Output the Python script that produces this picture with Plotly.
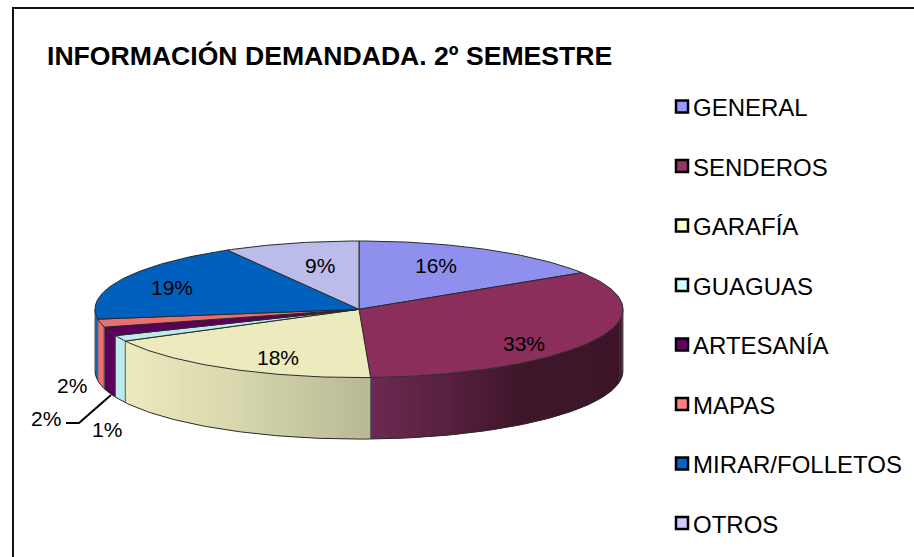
import numpy as np
import plotly.graph_objects as go

TITLE = "INFORMACIÓN DEMANDADA. 2º SEMESTRE"
categories = ["GENERAL", "SENDEROS", "GARAFÍA", "GUAGUAS", "ARTESANÍA", "MAPAS", "MIRAR/FOLLETOS", "OTROS"]
values = [16.0, 33.3, 18.0, 1.4, 2.1, 1.9, 19.0, 8.3]
labels = ["16%", "33%", "18%", "1%", "2%", "2%", "19%", "9%"]
legend_colors = ["#9999FF", "#993366", "#FFFFCC", "#CCFFFF", "#660066", "#FF8080", "#0066CC", "#CCCCFF"]
top_colors = ["#8F8FEE", "#8B2E5C", "#ECEBBD", "#BDEAEA", "#5A0058", "#E87070", "#0060BD", "#BCBCEA"]

# geometry of the projected disc (plot units = pixels)
CX, CY, RX, RY, DEPTH = 359.0, 309.3, 264.0, 68.3, 61.5
FONT = "Liberation Sans"
EDGE = "#2a2a2a"

def ex(a):
    return CX + RX * np.sin(a)

def ey(a):
    return CY - RY * np.cos(a)

def arc(a0, a1):
    n = max(3, int(abs(a1 - a0) / np.radians(1)) + 2)
    return np.linspace(a0, a1, n)

def lerp_color(stops, t):
    xs = [s[0] for s in stops]
    rgb = [np.interp(t, xs, [s[1][i] for s in stops]) for i in range(3)]
    return "rgb(%d,%d,%d)" % tuple(int(round(v)) for v in rgb)

side_gradients = {
    0: [(0, (0x3C, 0x15, 0x28)), (1, (0x3C, 0x15, 0x28))],
    1: [(0, (0x3C, 0x15, 0x28)), (0.6, (0x3F, 0x16, 0x2A)), (1, (0x6C, 0x2A, 0x52))],
    2: [(0, (0xB8, 0xB8, 0x96)), (0.55, (0xDD, 0xDC, 0xB1)), (1, (0xEC, 0xEB, 0xBD))],
    3: [(0, (0xBD, 0xEA, 0xEA)), (1, (0xBD, 0xEA, 0xEA))],
    4: [(0, (0x5A, 0x00, 0x58)), (1, (0x5A, 0x00, 0x58))],
    5: [(0, (0xE8, 0x70, 0x70)), (1, (0xE8, 0x70, 0x70))],
    6: [(0, (0x00, 0x58, 0xAE)), (1, (0x00, 0x58, 0xAE))],
}

fig = go.Figure()
total = sum(values)
bounds = np.concatenate([[0], np.cumsum(values)]) / total * 2 * np.pi

def poly(xs, ys, fill, line=None, width=0):
    fig.add_trace(go.Scatter(
        x=list(xs), y=list(ys), mode="lines", fill="toself", fillcolor=fill,
        line=dict(color=line or fill, width=width), hoverinfo="skip", showlegend=False))

# side wall, only the front half of the disc is visible
for i in range(len(values)):
    a0 = max(bounds[i], np.pi / 2)
    a1 = min(bounds[i + 1], 3 * np.pi / 2)
    if a1 <= a0:
        continue
    steps = arc(a0, a1)
    stops = side_gradients[i]
    for j in range(len(steps) - 1):
        s0, s1 = steps[j], min(steps[j + 1] + np.radians(0.6), a1)
        a = arc(s0, s1)
        t = (j + 0.5) / (len(steps) - 1)
        poly(np.r_[ex(a), ex(a)[::-1]], np.r_[ey(a), ey(a)[::-1] + DEPTH], lerp_color(stops, t))

# side wall outlines
a = arc(np.pi / 2, 3 * np.pi / 2)
fig.add_trace(go.Scatter(x=ex(a), y=ey(a) + DEPTH, mode="lines", line=dict(color=EDGE, width=1),
                         hoverinfo="skip", showlegend=False))
for b in list(bounds[1:-1]) + [np.pi / 2, 3 * np.pi / 2]:
    if np.pi / 2 <= b <= 3 * np.pi / 2:
        fig.add_trace(go.Scatter(x=[ex(b), ex(b)], y=[ey(b), ey(b) + DEPTH], mode="lines",
                                 line=dict(color="#555555", width=1), hoverinfo="skip", showlegend=False))

# top face
for i in range(len(values)):
    a = arc(bounds[i], bounds[i + 1])
    poly(np.r_[CX, ex(a), CX], np.r_[CY, ey(a), CY], top_colors[i], EDGE, 1)

# frame
fig.add_shape(type="rect", x0=13, y0=8, x1=940, y1=600, line=dict(color="#111111", width=2), layer="below")

# title
fig.add_annotation(x=45, y=56, text="<b>%s</b>" % TITLE, showarrow=False, xanchor="left", yanchor="middle",
                   font=dict(family=FONT, size=26.6, color="#000000"))

# legend
for i, name in enumerate(categories):
    y = 106.6 + i * 59.5
    fig.add_trace(go.Scatter(x=[682], y=[y], mode="markers", hoverinfo="skip", showlegend=False,
                             marker=dict(symbol="square", size=12, color=legend_colors[i],
                                         line=dict(color="#000000", width=2.5))))
    fig.add_annotation(x=691, y=y + 1, text=name, showarrow=False, xanchor="left", yanchor="middle",
                       font=dict(family=FONT, size=24, color="#000000"))

# data labels, placed per slice
label_xy = [(436, 265), (524, 343), (278, 357), (107, 429), (46, 418), (72, 385), (172, 287), (320, 265)]
for lab, (x, y) in zip(labels, label_xy):
    fig.add_annotation(x=x, y=y, text=lab, showarrow=False, xanchor="center", yanchor="middle",
                       font=dict(family=FONT, size=21, color="#000000"))

# leader line for the small slice
fig.add_trace(go.Scatter(x=[111, 79, 66], y=[395, 423, 423], mode="lines", hoverinfo="skip", showlegend=False,
                         line=dict(color="#000000", width=2)))

fig.update_layout(
    width=914, height=557, margin=dict(l=0, r=0, t=0, b=0),
    paper_bgcolor="#FFFFFF", plot_bgcolor="#FFFFFF", showlegend=False,
    xaxis=dict(range=[0, 914], visible=False, fixedrange=True),
    yaxis=dict(range=[557, 0], visible=False, fixedrange=True),
)
fig.write_html("out.html", config={"displayModeBar": False},
               post_script="document.body.style.margin='0';document.documentElement.style.overflow='hidden';")
